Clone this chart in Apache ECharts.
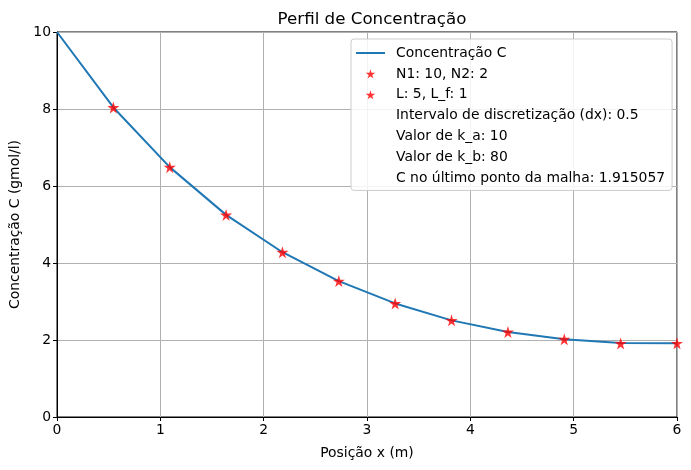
<!DOCTYPE html>
<html><head><meta charset="utf-8">
<script src="https://cdn.jsdelivr.net/npm/echarts@6/dist/echarts.min.js"></script>
<style>html,body{margin:0;padding:0;background:#fff}#c{width:691px;height:470px}</style>
</head><body><div id="c"></div>
<script>
const xLine = [0, 0.5455, 1.0909, 1.6364, 2.1818, 2.7273, 3.2727, 3.8182, 4.3636, 4.9091, 5.4545, 6];
const cLine = [10, 8.04, 6.49, 5.25, 4.28, 3.53, 2.95, 2.51, 2.21, 2.02, 1.92, 1.915057];
const xPts = [0.5455, 1.0909, 1.6364, 2.1818, 2.7273, 3.2727, 3.8182, 4.3636, 4.9091, 5.4545, 6];
const cPts = [8.04, 6.49, 5.25, 4.28, 3.53, 2.95, 2.51, 2.21, 2.02, 1.91, 1.915057];
const xTicks = [0, 1, 2, 3, 4, 5, 6];
const yTicks = [0, 2, 4, 6, 8, 10];
const lineName = 'Concentração C';
const starNames = ['N1: 10, N2: 2', 'L: 5, L_f: 1'];
const infoNames = ['Intervalo de discretização (dx): 0.5', 'Valor de k_a: 10', 'Valor de k_b: 80', 'C no último ponto da malha: 1.915057'];

const STAR = 'path://M50,0 L61,35 L98,35 L68,57 L79,91 L50,70 L21,91 L32,57 L2,35 L39,35 Z';
const STAR_SMALL = 'path://M-15,-15 L-15,-14.99 M50,0 L61,35 L98,35 L68,57 L79,91 L50,70 L21,91 L32,57 L2,35 L39,35 Z M115,106 L115,106.01';
const LINE_ICON = 'path://M0,0 L0,0.01 M0,5 L29,5 L29,7 L0,7 Z M29,12 L29,12.01';
const FONT = 'DejaVu Sans';
const FS = 13.9;
const chart = echarts.init(document.getElementById('c'), null, {renderer: 'canvas'});
const series = [
  {name: lineName, type: 'line', data: xLine.map((x, i) => [x, cLine[i]]), symbol: 'none',
   lineStyle: {color: '#1f77b4', width: 2}, itemStyle: {color: '#1f77b4'}, smooth: false, z: 2},
  {name: starNames[0], type: 'scatter', data: xPts.map((x, i) => [x, cPts[i]]), symbol: STAR,
   symbolSize: 12, itemStyle: {color: '#ff0000'}, z: 3},
  {name: starNames[1], type: 'scatter', data: [], symbol: STAR, symbolSize: 12, itemStyle: {color: '#ff0000'}}
];
infoNames.forEach(n => series.push({name: n, type: 'scatter', data: [], symbolSize: 0, itemStyle: {color: 'rgba(0,0,0,0)'}}));

chart.setOption({
  animation: false,
  textStyle: {fontFamily: FONT},
  title: {text: 'Perfil de Concentração', left: 367, top: 6, textAlign: 'center',
    textStyle: {fontFamily: FONT, fontSize: 16.7, fontWeight: 'normal', color: '#000'}},
  grid: {left: 57, right: 14, top: 32, bottom: 53, show: true, borderColor: '#000', borderWidth: 1,
    containLabel: false, outerBoundsMode: 'none'},
  legend: {
    orient: 'vertical', left: 351, top: 39, padding: [7, 7, 5, 5],
    itemWidth: 29, itemHeight: 12, itemGap: 6.9, symbolKeepAspect: true,
    backgroundColor: 'rgba(255,255,255,0.85)', borderColor: '#cccccc', borderWidth: 1, borderRadius: 3,
    textStyle: {fontFamily: FONT, fontSize: FS, color: '#000', padding: [0, 0, 0, 6]},
    data: [
      {name: lineName, icon: LINE_ICON, itemStyle: {color: '#1f77b4', borderWidth: 0}},
      {name: starNames[0], icon: STAR_SMALL, itemStyle: {color: '#ff0000', borderWidth: 0}},
      {name: starNames[1], icon: STAR_SMALL, itemStyle: {color: '#ff0000', borderWidth: 0}},
      ...infoNames.map(n => ({name: n, icon: 'rect', itemStyle: {opacity: 0, color: 'rgba(0,0,0,0)'}}))
    ]
  },
  xAxis: {
    type: 'value', min: xTicks[0], max: xTicks[xTicks.length - 1], interval: 1,
    name: 'Posição x (m)', nameLocation: 'middle', nameGap: 29,
    nameTextStyle: {fontFamily: FONT, fontSize: FS, color: '#000'},
    axisLine: {show: true, onZero: false, lineStyle: {color: '#000', width: 1}},
    axisTick: {show: true, inside: false, length: 4, lineStyle: {color: '#000'}},
    axisLabel: {fontFamily: FONT, fontSize: FS, color: '#000', margin: 6},
    splitLine: {show: true, lineStyle: {color: '#b0b0b0', width: 1}}
  },
  yAxis: {
    type: 'value', min: yTicks[0], max: yTicks[yTicks.length - 1], interval: 2,
    name: 'Concentração C (gmol/l)', nameLocation: 'middle', nameGap: 34, nameRotate: 90,
    nameTextStyle: {fontFamily: FONT, fontSize: FS, color: '#000'},
    axisLine: {show: true, onZero: false, lineStyle: {color: '#000', width: 1}},
    axisTick: {show: true, inside: false, length: 4, lineStyle: {color: '#000'}},
    axisLabel: {fontFamily: FONT, fontSize: FS, color: '#000', margin: 6},
    splitLine: {show: true, lineStyle: {color: '#b0b0b0', width: 1}}
  },
  series: series
});
</script></body></html>
